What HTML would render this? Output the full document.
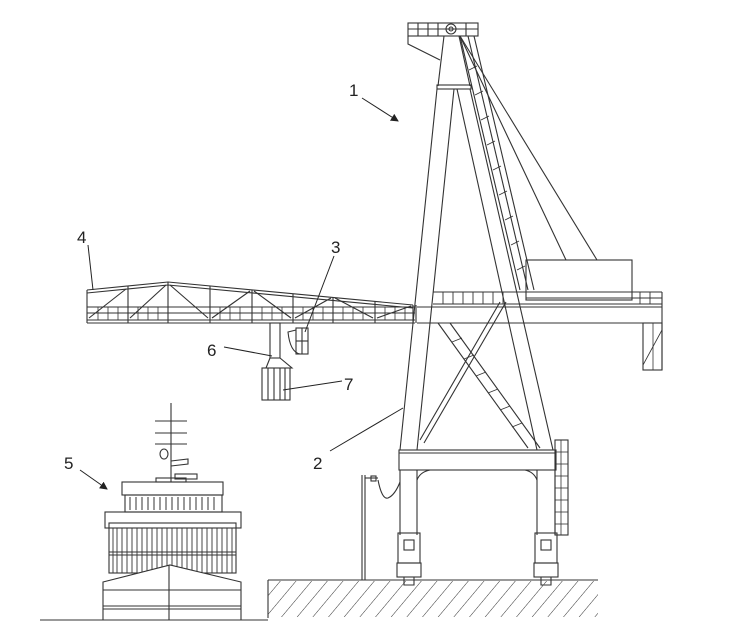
<!DOCTYPE html>
<html><head><meta charset="utf-8"><style>
html,body{margin:0;padding:0;background:#fff;}
svg{display:block;}
text{font-family:"Liberation Sans",sans-serif;font-size:17px;fill:#222;}
</style></head><body>
<svg width="744" height="641" viewBox="0 0 744 641" xmlns="http://www.w3.org/2000/svg">
<defs>
<pattern id="h" width="12" height="12" patternUnits="userSpaceOnUse" patternTransform="rotate(40)">
<line x1="0" y1="0" x2="0" y2="12" stroke="#333" stroke-width="1"/>
</pattern>
<marker id="ar" markerWidth="8" markerHeight="8" refX="7" refY="4" orient="auto"><path d="M0,0 L8,4 L0,8 z" fill="#222"/></marker>
</defs>
<g fill="none" stroke="#333" stroke-width="1.1">
<!-- tower top -->
<rect x="408" y="23" width="70" height="13"/>
<line x1="408" y1="29" x2="478" y2="29"/>
<line x1="418" y1="23" x2="418" y2="36"/><line x1="428" y1="23" x2="428" y2="36"/><line x1="438" y1="23" x2="438" y2="36"/><line x1="466" y1="23" x2="466" y2="36"/>
<circle cx="451" cy="29" r="5"/><circle cx="451" cy="29" r="2"/>
<polyline points="408,36 408,44 440,60"/>
<!-- mast -->
<line x1="444" y1="36" x2="438" y2="86"/>
<line x1="459" y1="36" x2="470" y2="86"/>
<rect x="437" y="85" width="34" height="4"/>
<!-- A frame legs -->
<line x1="437" y1="89" x2="400" y2="450"/>
<line x1="454" y1="89" x2="417" y2="450"/>
<line x1="457" y1="89" x2="537" y2="450"/>
<line x1="470" y1="89" x2="553" y2="450"/>
<!-- inclined ladder -->
<line x1="460" y1="36" x2="520" y2="290"/>
<line x1="468" y1="36" x2="528" y2="290"/>
<line x1="474" y1="36" x2="534" y2="290"/>
<g stroke-width="0.9">
<line x1="469" y1="70" x2="477" y2="66"/><line x1="475" y1="95" x2="483" y2="91"/><line x1="481" y1="120" x2="489" y2="116"/><line x1="487" y1="145" x2="495" y2="141"/><line x1="493" y1="170" x2="501" y2="166"/><line x1="499" y1="195" x2="507" y2="191"/><line x1="505" y1="220" x2="513" y2="216"/><line x1="511" y1="245" x2="519" y2="241"/><line x1="517" y1="270" x2="525" y2="266"/>
</g>
<!-- ropes -->
<line x1="460" y1="36" x2="566" y2="260"/>
<line x1="460" y1="36" x2="597" y2="260"/>
<!-- machine house -->
<rect x="526" y="260" width="106" height="40"/>
<line x1="526" y1="298" x2="632" y2="298"/>
<!-- main girder -->
<line x1="433" y1="292" x2="662" y2="292"/>
<line x1="433" y1="304" x2="662" y2="304"/>
<line x1="417" y1="307" x2="662" y2="307"/>
<line x1="417" y1="323" x2="662" y2="323"/>
<line x1="662" y1="292" x2="662" y2="370"/>
<g stroke-width="0.9">
<line x1="443" y1="292" x2="443" y2="304"/><line x1="453" y1="292" x2="453" y2="304"/><line x1="463" y1="292" x2="463" y2="304"/><line x1="473" y1="292" x2="473" y2="304"/><line x1="483" y1="292" x2="483" y2="304"/><line x1="493" y1="292" x2="493" y2="304"/><line x1="503" y1="292" x2="503" y2="304"/>
<line x1="640" y1="292" x2="640" y2="304"/><line x1="650" y1="292" x2="650" y2="304"/>
<line x1="632" y1="298" x2="662" y2="298"/>
</g>
<!-- right cabin -->
<rect x="643" y="323" width="19" height="47"/>
<line x1="643" y1="365" x2="662" y2="330" stroke-width="0.8"/>
<line x1="653" y1="323" x2="653" y2="370" stroke-width="0.8"/>
<!-- left boom truss -->
<polyline points="87,290 168,282 413,305"/>
<polyline points="87,293 168,285 413,308"/>
<line x1="87" y1="323" x2="415" y2="323"/>
<line x1="87" y1="320" x2="415" y2="320"/>
<line x1="87" y1="307" x2="415" y2="307"/>
<line x1="87" y1="313" x2="415" y2="313"/>
<g>
<line x1="87" y1="290" x2="87" y2="323"/><line x1="128" y1="286" x2="128" y2="323"/><line x1="168" y1="282" x2="168" y2="323"/><line x1="210" y1="286" x2="210" y2="323"/><line x1="252" y1="290" x2="252" y2="323"/><line x1="293" y1="294" x2="293" y2="323"/><line x1="333" y1="297" x2="333" y2="323"/><line x1="375" y1="301" x2="375" y2="323"/><line x1="413" y1="305" x2="413" y2="323"/><line x1="416" y1="305" x2="416" y2="323"/>
<line x1="89" y1="318" x2="126" y2="289"/><line x1="130" y1="318" x2="166" y2="285"/><line x1="170" y1="285" x2="208" y2="318"/><line x1="212" y1="318" x2="250" y2="291"/><line x1="254" y1="291" x2="291" y2="318"/><line x1="295" y1="318" x2="331" y2="298"/><line x1="335" y1="298" x2="373" y2="318"/><line x1="377" y1="318" x2="411" y2="306"/>
</g>
<g stroke-width="0.8">
<line x1="98" y1="307" x2="98" y2="320"/><line x1="108" y1="307" x2="108" y2="320"/><line x1="118" y1="307" x2="118" y2="320"/>
<line x1="138" y1="307" x2="138" y2="320"/><line x1="148" y1="307" x2="148" y2="320"/><line x1="158" y1="307" x2="158" y2="320"/>
<line x1="220" y1="307" x2="220" y2="320"/><line x1="230" y1="307" x2="230" y2="320"/><line x1="240" y1="307" x2="240" y2="320"/>
<line x1="262" y1="307" x2="262" y2="320"/><line x1="272" y1="307" x2="272" y2="320"/><line x1="282" y1="307" x2="282" y2="320"/>
<line x1="303" y1="307" x2="303" y2="320"/><line x1="313" y1="307" x2="313" y2="320"/><line x1="323" y1="307" x2="323" y2="320"/>
<line x1="343" y1="307" x2="343" y2="320"/><line x1="353" y1="307" x2="353" y2="320"/><line x1="363" y1="307" x2="363" y2="320"/>
<line x1="385" y1="307" x2="385" y2="320"/><line x1="395" y1="307" x2="395" y2="320"/><line x1="405" y1="307" x2="405" y2="320"/>
</g>
<!-- hanging parts -->
<rect x="270" y="323" width="10" height="35"/>
<polyline points="270,358 266,368 292,368 280,358"/>
<rect x="262" y="368" width="28" height="32"/>
<line x1="268" y1="368" x2="268" y2="400"/><line x1="274" y1="368" x2="274" y2="400"/><line x1="280" y1="368" x2="280" y2="400"/><line x1="285" y1="368" x2="285" y2="400"/>
<rect x="296" y="328" width="12" height="26"/>
<path d="M296,330 L288,332 Q290,352 300,354"/>
<line x1="296" y1="341" x2="308" y2="341"/><line x1="302" y1="328" x2="302" y2="354"/>
<!-- cross bracing between legs -->
<line x1="438" y1="323" x2="528" y2="448"/>
<line x1="450" y1="323" x2="540" y2="448"/>
<line x1="500" y1="302" x2="420" y2="440"/>
<line x1="506" y1="302" x2="424" y2="443"/>
<g stroke-width="0.8">
<line x1="452" y1="342" x2="462" y2="338"/><line x1="464" y1="359" x2="474" y2="355"/><line x1="476" y1="376" x2="486" y2="372"/><line x1="488" y1="393" x2="498" y2="389"/><line x1="500" y1="410" x2="510" y2="406"/><line x1="512" y1="427" x2="522" y2="423"/>
</g>
<!-- portal beam -->
<rect x="399" y="450" width="157" height="20"/>
<line x1="399" y1="453" x2="556" y2="453"/>
<!-- lower legs -->
<line x1="400" y1="470" x2="400" y2="535"/><line x1="417" y1="470" x2="417" y2="535"/>
<line x1="537" y1="470" x2="537" y2="535"/><line x1="555" y1="470" x2="555" y2="535"/>
<path d="M417,480 Q420,472 430,470"/><path d="M537,480 Q534,472 525,470"/>
<!-- bogies -->
<rect x="398" y="533" width="22" height="30"/><rect x="404" y="540" width="10" height="10"/>
<rect x="397" y="563" width="24" height="14"/><path d="M404,577 L404,585 L414,585 L414,577"/>
<rect x="535" y="533" width="22" height="30"/><rect x="541" y="540" width="10" height="10"/>
<rect x="534" y="563" width="24" height="14"/><path d="M541,577 L541,585 L551,585 L551,577"/>
<!-- stairs -->
<rect x="555" y="440" width="13" height="95"/>
<g stroke-width="0.8">
<line x1="561" y1="440" x2="561" y2="535"/>
<line x1="555" y1="452" x2="568" y2="452"/><line x1="555" y1="464" x2="568" y2="464"/><line x1="555" y1="476" x2="568" y2="476"/><line x1="555" y1="488" x2="568" y2="488"/><line x1="555" y1="500" x2="568" y2="500"/><line x1="555" y1="512" x2="568" y2="512"/><line x1="555" y1="524" x2="568" y2="524"/>
</g>
<!-- power pole -->
<line x1="362" y1="475" x2="362" y2="580"/><line x1="365" y1="475" x2="365" y2="580"/>
<line x1="365" y1="478" x2="378" y2="478"/><rect x="371" y="476" width="5" height="5"/>
<path d="M378,480 Q382,500 388,498 Q395,495 400,482"/>
<!-- quay -->
<rect x="268" y="581" width="330" height="36" fill="url(#h)" stroke="none"/>
<line x1="268" y1="580" x2="598" y2="580"/>
<line x1="268" y1="580" x2="268" y2="618"/>
<!-- sea line -->
<line x1="40" y1="620" x2="268" y2="620"/>
<!-- ship -->
<line x1="171" y1="403" x2="171" y2="482"/>
<line x1="155" y1="421" x2="187" y2="421"/><line x1="155" y1="433" x2="187" y2="433"/><line x1="155" y1="444" x2="187" y2="444"/>
<ellipse cx="164" cy="454" rx="4" ry="5"/>
<polyline points="171,461 188,459 188,464 171,466"/>
<rect x="156" y="478" width="30" height="4"/><rect x="175" y="474" width="22" height="5"/>
<rect x="122" y="482" width="101" height="13"/>
<rect x="125" y="495" width="97" height="17"/>
<g stroke-width="1">
<line x1="130" y1="497" x2="130" y2="510"/><line x1="136" y1="497" x2="136" y2="510"/><line x1="142" y1="497" x2="142" y2="510"/><line x1="148" y1="497" x2="148" y2="510"/><line x1="154" y1="497" x2="154" y2="510"/><line x1="160" y1="497" x2="160" y2="510"/><line x1="166" y1="497" x2="166" y2="510"/><line x1="172" y1="497" x2="172" y2="510"/><line x1="178" y1="497" x2="178" y2="510"/><line x1="184" y1="497" x2="184" y2="510"/><line x1="190" y1="497" x2="190" y2="510"/><line x1="196" y1="497" x2="196" y2="510"/><line x1="202" y1="497" x2="202" y2="510"/><line x1="208" y1="497" x2="208" y2="510"/><line x1="214" y1="497" x2="214" y2="510"/>
</g>
<rect x="105" y="512" width="136" height="16"/>
<rect x="109" y="523" width="127" height="50"/>
<line x1="109" y1="552" x2="236" y2="552"/><line x1="109" y1="555" x2="236" y2="555"/>
<g stroke-width="0.9">
<line x1="113" y1="528" x2="113" y2="573"/><line x1="117" y1="528" x2="117" y2="573"/><line x1="122" y1="528" x2="122" y2="573"/><line x1="127" y1="528" x2="127" y2="573"/><line x1="132" y1="528" x2="132" y2="573"/><line x1="137" y1="528" x2="137" y2="573"/><line x1="142" y1="528" x2="142" y2="573"/><line x1="147" y1="528" x2="147" y2="573"/><line x1="152" y1="528" x2="152" y2="573"/><line x1="157" y1="528" x2="157" y2="573"/><line x1="162" y1="528" x2="162" y2="573"/><line x1="167" y1="528" x2="167" y2="573"/><line x1="172" y1="528" x2="172" y2="573"/><line x1="177" y1="528" x2="177" y2="573"/><line x1="182" y1="528" x2="182" y2="573"/><line x1="187" y1="528" x2="187" y2="573"/><line x1="192" y1="528" x2="192" y2="573"/><line x1="197" y1="528" x2="197" y2="573"/><line x1="202" y1="528" x2="202" y2="573"/><line x1="207" y1="528" x2="207" y2="573"/><line x1="212" y1="528" x2="212" y2="573"/><line x1="217" y1="528" x2="217" y2="573"/><line x1="222" y1="528" x2="222" y2="573"/><line x1="227" y1="528" x2="227" y2="573"/><line x1="232" y1="528" x2="232" y2="573"/>
</g>
<path d="M103,582 L170,565 L241,582 L241,620 L103,620 Z" fill="#fff"/>
<line x1="103" y1="590" x2="241" y2="590"/>
<line x1="103" y1="606" x2="241" y2="606"/><line x1="103" y1="609" x2="241" y2="609"/>
<line x1="169" y1="565" x2="169" y2="620"/>
<!-- leader lines -->
<g stroke="#222" stroke-width="1">
<line x1="362" y1="98" x2="398" y2="121" marker-end="url(#ar)"/>
<line x1="88" y1="245" x2="93" y2="290"/>
<line x1="334" y1="256" x2="305" y2="332"/>
<line x1="224" y1="347" x2="272" y2="356"/>
<line x1="342" y1="381" x2="283" y2="390"/>
<line x1="80" y1="470" x2="107" y2="489" marker-end="url(#ar)"/>
<line x1="330" y1="451" x2="403" y2="408"/>
</g>
</g>
<text x="349" y="96">1</text>
<text x="77" y="243">4</text>
<text x="331" y="253">3</text>
<text x="207" y="356">6</text>
<text x="344" y="390">7</text>
<text x="64" y="469">5</text>
<text x="313" y="469">2</text>
</svg>
</body></html>
